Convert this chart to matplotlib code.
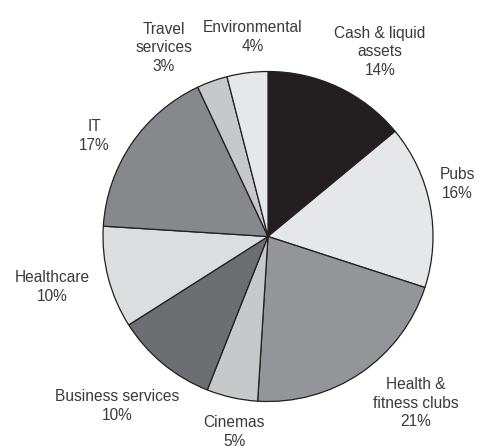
import matplotlib
matplotlib.use('Agg')
from matplotlib import pyplot as plt

# data, clockwise from 12 o'clock
sectors = ['Cash & liquid\nassets', 'Pubs', 'Health &\nfitness clubs', 'Cinemas',
           'Business services', 'Healthcare', 'IT', 'Travel\nservices', 'Environmental']
shares = [14, 16, 21, 5, 10, 10, 17, 3, 4]
colours = ['#231f20', '#e6e7e8', '#939598', '#c7c8ca', '#6d6e71',
           '#dcdddf', '#86888b', '#c7c8ca', '#e6e7e8']

# label centres in pixels (x from left, y from top)
label_px = [(380, 52), (457, 184), (416, 403), (234, 432), (117, 406),
            (52, 287), (94, 136), (164, 48), (253, 37)]

W, H = 496, 446
cx, cy, R = 268, 236.5, 165

fig = plt.figure(figsize=(W / 100, H / 100), dpi=100)
ax = fig.add_axes([0, 0, 1, 1])
ax.pie(shares, colors=colours, startangle=90, counterclock=False, radius=1,
       wedgeprops=dict(edgecolor='#231f20', linewidth=0.9))
ax.set_xlim(-cx / R, (W - cx) / R)
ax.set_ylim(-(H - cy) / R, cy / R)
ax.set_aspect('equal')
ax.axis('off')

for name, val, (px, py) in zip(sectors, shares, label_px):
	ax.text((px - cx) / R, (cy - py) / R, "%s\n%d%%" % (name, val),
	        ha='center', va='center', fontsize=11.2, family='Liberation Sans',
	        color='#3a3a3a', linespacing=1.33)

fig.savefig('out.png', dpi=100)
